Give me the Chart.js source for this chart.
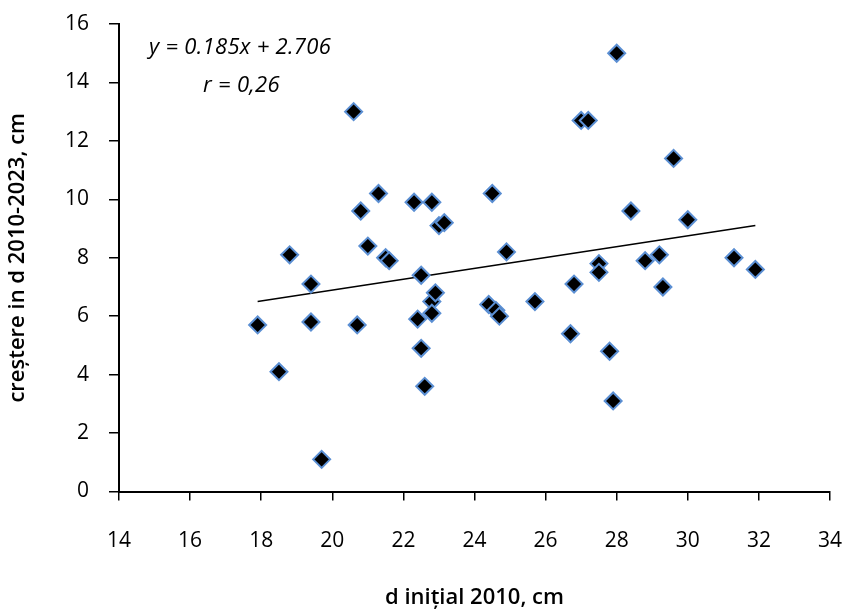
<!DOCTYPE html>
<html>
<head>
<meta charset="utf-8">
<script src="https://cdn.jsdelivr.net/npm/chart.js@4.4.0/dist/chart.umd.min.js"></script>
<style>
  html, body { margin: 0; padding: 0; background: #fff; }
  #wrap { width: 846px; height: 611px; position: relative; }
</style>
</head>
<body>
<div id="wrap"><canvas id="myChart"></canvas></div>
<script>
// d initial 2010 (cm) and growth 2010-2023 (cm)
var diamInitial = [17.9, 18.5, 18.8, 19.4, 19.4, 19.7, 20.6, 20.7, 20.8, 21.0, 21.3, 21.5, 21.6,
    22.3, 22.4, 22.5, 22.5, 22.6, 22.8, 22.8, 22.8, 22.9, 23.0, 23.15,
    24.4, 24.5, 24.6, 24.7, 24.9, 25.7, 26.7, 26.8, 27.0, 27.2, 27.5, 27.5, 27.8, 27.9,
    28.0, 28.4, 28.8, 29.2, 29.3, 29.6, 30.0, 31.3, 31.9];
var growth = [5.7, 4.1, 8.1, 7.1, 5.8, 1.1, 13.0, 5.7, 9.6, 8.4, 10.2, 8.0, 7.9,
    9.9, 5.9, 7.4, 4.9, 3.6, 9.9, 6.5, 6.1, 6.8, 9.1, 9.2,
    6.4, 10.2, 6.2, 6.0, 8.2, 6.5, 5.4, 7.1, 12.7, 12.7, 7.8, 7.5, 4.8, 3.1,
    15.0, 9.6, 7.9, 8.1, 7.0, 11.4, 9.3, 8.0, 7.6];

// trend line ends as drawn
var trendX = [17.9, 31.9];
var trendY = [6.5, 9.1];

var equationText = 'y = 0.185x + 2.706';
var rText = 'r = 0,26';

var xTicks = { min: 14, max: 34, step: 2 };
var yTicks = { min: 0, max: 16, step: 2 };

var points = [];
for (var i = 0; i < diamInitial.length; i++) {
    points.push({ x: diamInitial[i], y: growth[i] });
}
var trend = [];
for (var j = 0; j < trendX.length; j++) {
    trend.push({ x: trendX[j], y: trendY[j] });
}

var fontFam = "'Open Sans', sans-serif";

var equationPlugin = {
    id: 'equation',
    afterDatasetsDraw: function (chart) {
        var c = chart.ctx;
        var a = chart.chartArea;
        c.save();
        c.fillStyle = '#000';
        c.font = "italic 22px " + fontFam;
        c.letterSpacing = '0.3px';
        c.textBaseline = 'middle';
        c.textAlign = 'left';
        c.fillText(equationText, a.left + 30, a.top + 24);
        c.fillText(rText, a.left + 84, a.top + 62);
        c.restore();
    }
};

var ctx = document.getElementById("myChart");
var myChart = new Chart(ctx, {
    type: 'scatter',
    data: {
        datasets: [{
            label: 'creștere',
            data: points,
            pointStyle: 'rectRot',
            pointRadius: 8.5,
            pointHoverRadius: 8.5,
            backgroundColor: '#000000',
            borderColor: '#5b8fd3',
            borderWidth: 2,
            order: 1
        },
        {
            label: 'trend',
            data: trend,
            showLine: true,
            pointRadius: 0,
            borderColor: '#000000',
            borderWidth: 1.5,
            fill: false,
            order: 2
        }]
    },
    options: {
        responsive: true,
        maintainAspectRatio: false,
        animation: false,
        layout: { padding: { top: 24, right: 16, bottom: 0, left: 0 } },
        plugins: {
            legend: { display: false },
            tooltip: { enabled: false }
        },
        scales: {
            x: {
                type: 'linear',
                min: xTicks.min,
                max: xTicks.max,
                afterFit: function (scale) {
                    scale.height = 119.5;
                    scale.paddingLeft = 0;
                    scale.paddingRight = 0;
                },
                ticks: {
                    stepSize: xTicks.step,
                    color: '#000',
                    padding: 28,
                    font: { family: fontFam, size: 21 }
                },
                grid: {
                    drawOnChartArea: false,
                    drawTicks: true,
                    tickLength: 9,
                    color: '#000',
                    lineWidth: 1.5
                },
                border: { color: '#000', width: 2 },
                title: {
                    display: true,
                    text: 'd inițial 2010, cm',
                    color: '#000',
                    font: { family: fontFam, size: 22, weight: '600' },
                    padding: { top: 0, bottom: 0 }
                }
            },
            y: {
                type: 'linear',
                min: yTicks.min,
                max: yTicks.max,
                afterFit: function (scale) {
                    scale.width = 119;
                    scale.paddingTop = 0;
                    scale.paddingBottom = 0;
                },
                ticks: {
                    stepSize: yTicks.step,
                    color: '#000',
                    padding: 20,
                    font: { family: fontFam, size: 21 }
                },
                grid: {
                    drawOnChartArea: false,
                    drawTicks: true,
                    tickLength: 10,
                    color: '#000',
                    lineWidth: 1.5
                },
                border: { color: '#000', width: 2 },
                title: {
                    display: true,
                    text: 'creștere in d 2010-2023, cm',
                    color: '#000',
                    font: { family: fontFam, size: 22, weight: '600' },
                    padding: { top: 5, bottom: 0 }
                }
            }
        }
    },
    plugins: [equationPlugin]
});
</script>
</body>
</html>
